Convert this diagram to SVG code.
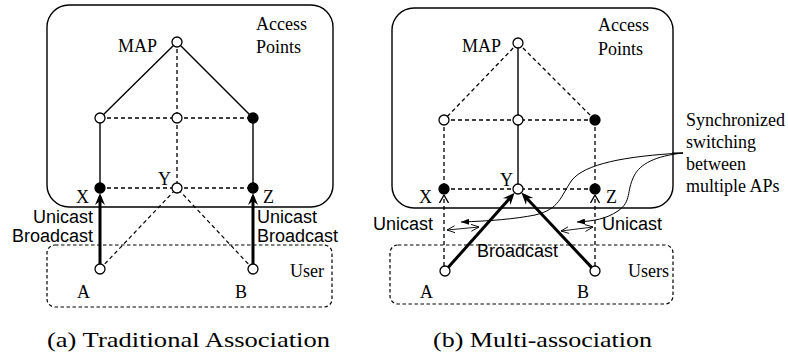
<svg xmlns="http://www.w3.org/2000/svg" width="788" height="360" viewBox="0 0 788 360">
<style>
.frame{fill:none;stroke:#000;stroke-width:1.4}
.ubox{fill:none;stroke:#000;stroke-width:1.2;stroke-dasharray:3.5,2.5}
.n{fill:#fff;stroke:#000;stroke-width:1.3}
.f{fill:#000;stroke:#000;stroke-width:1.3}
.s{stroke:#000;stroke-width:1.4;fill:none}
.d{stroke:#000;stroke-width:1.3;fill:none;stroke-dasharray:4,3}
.dt{stroke:#000;stroke-width:1.2;fill:none;stroke-dasharray:4,3}
.thick{stroke:#000;stroke-width:3;fill:none;marker-end:url(#big)}
.cv{stroke:#000;stroke-width:1;fill:none;marker-end:url(#small)}
.dbl{stroke:#000;stroke-width:0.9;fill:none;marker-start:url(#open);marker-end:url(#open)}
.chev{stroke:#000;stroke-width:1.3;fill:none;stroke-dasharray:4,3;marker-end:url(#chev)}
.t{font-family:"Liberation Serif",serif;font-size:18px;fill:#000}
.sans{font-family:"Liberation Sans",Arial,sans-serif;font-size:18px;fill:#000}
.cap{font-family:"Liberation Serif",serif;font-size:22px;fill:#000}
</style>
<defs>
<marker id="big" markerUnits="userSpaceOnUse" viewBox="0 0 12 12" refX="8" refY="6" markerWidth="12" markerHeight="12" orient="auto"><path d="M0,1 L12,6 L0,11 L4,6 z" fill="#000"/></marker>
<marker id="small" markerUnits="userSpaceOnUse" viewBox="0 0 8 6" refX="8" refY="3" markerWidth="8" markerHeight="6" orient="auto"><path d="M0,0 L8,3 L0,6 z" fill="#000"/></marker>
<marker id="open" markerUnits="userSpaceOnUse" viewBox="0 0 8 8" refX="8" refY="4" markerWidth="8" markerHeight="8" orient="auto-start-reverse"><path d="M0,0.5 L8,4 L0,7.5" fill="none" stroke="#000" stroke-width="0.9"/></marker>
<marker id="chev" markerUnits="userSpaceOnUse" viewBox="0 0 8 10" refX="8" refY="5" markerWidth="8" markerHeight="10" orient="auto"><path d="M0,0.5 L8,5 L0,9.5" fill="none" stroke="#000" stroke-width="1.3" stroke-dasharray="none"/></marker>
</defs>

<!-- Panel (a) -->
<g id="a-ap-box"><rect class="frame" x="47" y="5" width="286" height="202" rx="22"/><text class="t" x="256" y="30">Access</text><text class="t" x="256" y="53">Points</text></g>
<g id="a-user-box"><rect class="ubox" x="47" y="245" width="285" height="62" rx="8"/><text class="t" x="290" y="277">User</text></g>
<g id="a-connectors">
<line class="s" x1="177" y1="42" x2="100" y2="118"/>
<line class="s" x1="177" y1="42" x2="253" y2="118"/>
<line class="d" x1="177" y1="42" x2="177" y2="118"/>
<line class="d" x1="100" y1="118" x2="253" y2="118"/>
<line class="d" x1="177" y1="118" x2="177" y2="188"/>
<line class="s" x1="100" y1="118" x2="100" y2="188"/>
<line class="s" x1="253" y1="118" x2="253" y2="188"/>
<line class="d" x1="100" y1="188" x2="253" y2="188"/>
<line class="dt" x1="100" y1="269" x2="177" y2="188"/>
<line class="dt" x1="253" y1="269" x2="177" y2="188"/>
<line class="thick" x1="100" y1="264" x2="100" y2="197"/>
<line class="thick" x1="253" y1="264" x2="253" y2="197"/>
</g>
<g id="a-map"><circle class="n" cx="177" cy="42" r="5"/><text class="t" x="118" y="52">MAP</text></g>
<g id="a-n1"><circle class="n" cx="100" cy="118" r="5"/></g>
<g id="a-n2"><circle class="n" cx="177" cy="118" r="5"/></g>
<g id="a-n3"><circle class="f" cx="253" cy="118" r="5"/></g>
<g id="a-x"><circle class="f" cx="100" cy="188" r="5"/><text class="t" x="76" y="203">X</text></g>
<g id="a-y"><circle class="n" cx="177" cy="188" r="5"/><text class="t" x="158" y="185">Y</text></g>
<g id="a-z"><circle class="f" cx="253" cy="188" r="5"/><text class="t" x="263" y="203">Z</text></g>
<g id="a-a"><circle class="n" cx="100" cy="269" r="5"/><text class="t" x="77" y="298">A</text></g>
<g id="a-b"><circle class="n" cx="253" cy="269" r="5"/><text class="t" x="235" y="298">B</text></g>
<g id="a-labels">
<text class="sans" x="93" y="223" text-anchor="end">Unicast</text>
<text class="sans" x="93" y="242" text-anchor="end">Broadcast</text>
<text class="sans" x="257" y="223">Unicast</text>
<text class="sans" x="257" y="242">Broadcast</text>
</g>
<text class="cap" x="47" y="347" textLength="283" lengthAdjust="spacingAndGlyphs">(a) Traditional Association</text>

<!-- Panel (b) -->
<g id="b-ap-box"><rect class="frame" x="392" y="8" width="281" height="200" rx="22"/><text class="t" x="598" y="31">Access</text><text class="t" x="598" y="55">Points</text></g>
<g id="b-user-box"><rect class="ubox" x="390" y="245" width="283" height="59" rx="8"/><text class="t" x="628" y="277">Users</text></g>
<g id="b-connectors">
<line class="d" x1="518" y1="43" x2="444" y2="120"/>
<line class="d" x1="518" y1="43" x2="595" y2="120"/>
<line class="s" x1="518" y1="43" x2="518" y2="189"/>
<line class="d" x1="444" y1="120" x2="595" y2="120"/>
<line class="d" x1="444" y1="120" x2="444" y2="189"/>
<line class="d" x1="595" y1="120" x2="595" y2="189"/>
<line class="d" x1="444" y1="189" x2="595" y2="189"/>
<line class="chev" x1="444" y1="266" x2="444" y2="195"/>
<line class="chev" x1="595" y1="266" x2="595" y2="195"/>
<line class="thick" x1="448.3" y1="267.3" x2="512" y2="195.7"/>
<line class="thick" x1="591.6" y1="267.4" x2="524.1" y2="195.5"/>
<line class="dbl" x1="447" y1="230" x2="479" y2="227"/>
<line class="dbl" x1="561" y1="231" x2="593" y2="227"/>
<line class="s" x1="672" y1="153" x2="683" y2="153" style="stroke-width:1"/>
<path class="cv" d="M683,153 C625,156 585,164 572,180 C560,197 560,209 535,215 C515,219 490,221 461,222"/>
<path class="cv" d="M683,153 C655,156 640,164 634,176 C626,192 632,201 618,211 C606,219 594,221 577,222"/>
</g>
<g id="b-map"><circle class="n" cx="518" cy="43" r="5"/><text class="t" x="462" y="52">MAP</text></g>
<g id="b-n1"><circle class="n" cx="444" cy="120" r="5"/></g>
<g id="b-n2"><circle class="n" cx="518" cy="120" r="5"/></g>
<g id="b-n3"><circle class="f" cx="595" cy="120" r="5"/></g>
<g id="b-x"><circle class="f" cx="444" cy="189" r="5"/><text class="t" x="419" y="203">X</text></g>
<g id="b-y"><circle class="n" cx="518" cy="189" r="5"/><text class="t" x="500" y="186">Y</text></g>
<g id="b-z"><circle class="f" cx="595" cy="189" r="5"/><text class="t" x="606" y="203">Z</text></g>
<g id="b-a"><circle class="n" cx="445" cy="271" r="5"/><text class="t" x="420" y="298">A</text></g>
<g id="b-b"><circle class="n" cx="595" cy="271" r="5"/><text class="t" x="577" y="298">B</text></g>
<g id="b-labels">
<text class="sans" x="433" y="230" text-anchor="end">Unicast</text>
<text class="sans" x="602" y="230">Unicast</text>
<text class="sans" x="477" y="257">Broadcast</text>
<text class="t" x="686" y="126">Synchronized</text>
<text class="t" x="686" y="148">switching</text>
<text class="t" x="686" y="170">between</text>
<text class="t" x="686" y="192">multiple APs</text>
</g>
<text class="cap" x="433" y="347" textLength="219" lengthAdjust="spacingAndGlyphs">(b) Multi-association</text>
</svg>
